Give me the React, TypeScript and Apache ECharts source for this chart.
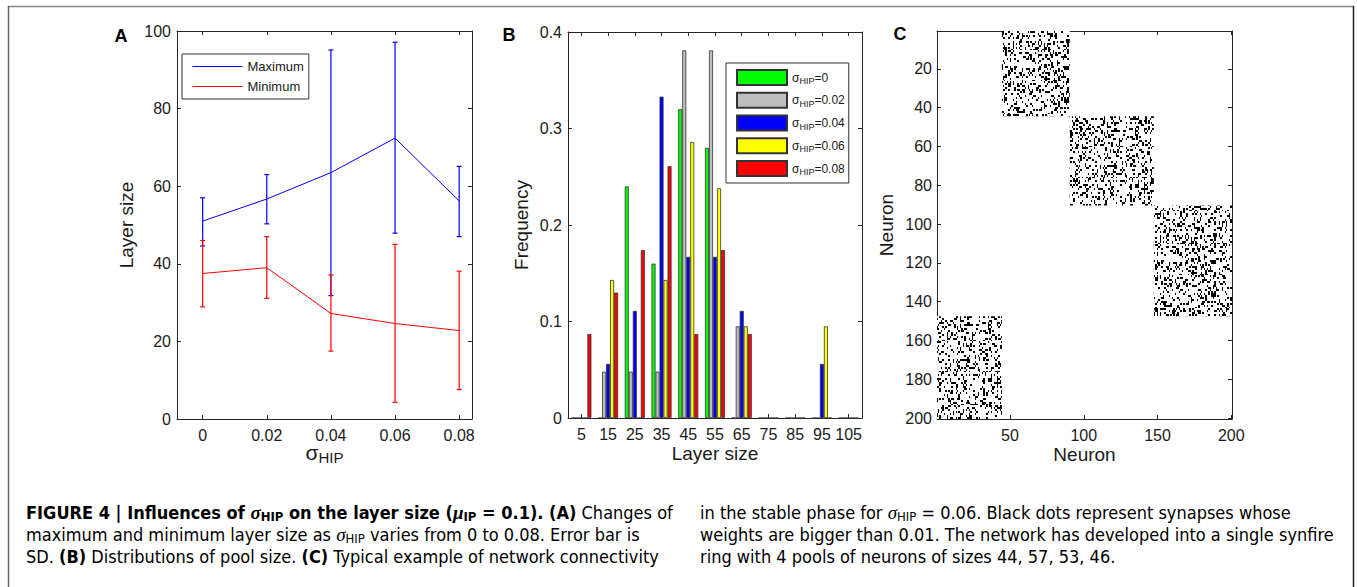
import React, { useEffect, useRef } from 'react';
import * as echarts from 'echarts';

// ---------- Panel A data ----------
const sigmaValues = [0, 0.02, 0.04, 0.06, 0.08];
const maxMean = [51.0, 56.7, 63.5, 72.4, 56.2];
const maxLow = [44.6, 50.3, 31.8, 47.9, 47.0];
const maxHigh = [57.0, 63.0, 95.1, 97.1, 65.1];
const minMean = [37.5, 39.0, 27.2, 24.6, 22.8];
const minLow = [28.9, 31.1, 17.5, 4.3, 7.6];
const minHigh = [46.0, 47.0, 37.1, 45.0, 38.1];

// ---------- Panel B data ----------
const layerSizeBins = ['5', '15', '25', '35', '45', '55', '65', '75', '85', '95', '105'];
const freqSigma0 = [0, 0, 0.24, 0.16, 0.32, 0.28, 0, 0, 0, 0, 0];
const freqSigma002 = [0, 0.048, 0.048, 0.048, 0.381, 0.381, 0.095, 0, 0, 0, 0];
const freqSigma004 = [0, 0.056, 0.111, 0.333, 0.167, 0.167, 0.111, 0, 0, 0.056, 0];
const freqSigma006 = [0, 0.143, 0, 0.143, 0.286, 0.238, 0.095, 0, 0, 0.095, 0];
const freqSigma008 = [0.087, 0.13, 0.174, 0.261, 0.087, 0.174, 0.087, 0, 0, 0, 0];
const barSeriesNames = ['σHIP=0', 'σHIP=0.02', 'σHIP=0.04', 'σHIP=0.06', 'σHIP=0.08'];
const barColors = ['#00ff00', '#bebebe', '#0000ff', '#ffff00', '#ff0000'];

// ---------- Panel C data (pools of the synfire ring) ----------
const poolStart = [1, 45, 91, 148];
const poolEnd = [44, 90, 147, 200];
const poolTarget = [1, 2, 3, 0];
const neuronTicksY = [20, 40, 60, 80, 100, 120, 140, 160, 180, 200];
const neuronTicksX = [50, 100, 150, 200];

const FONT = "'Liberation Sans', Arial, Helvetica, sans-serif";
const CAP_FONT = "'Liberation Sans Narrow', 'DejaVu Sans Condensed', 'Liberation Sans', sans-serif";
const AXIS = '#262626';
const LABEL = '#1a1a1a';

function makeTexture() {
  // speckle texture used to fill the connectivity blocks (style only)
  const cols = 100, rows = 100, cw = 1.47, ch = 1.94;
  const w = Math.round(cols * cw), h = Math.round(rows * ch);
  const cv = document.createElement('canvas');
  cv.width = w; cv.height = h;
  const ctx = cv.getContext('2d')!;
  ctx.fillStyle = '#ffffff';
  ctx.fillRect(0, 0, w, h);
  ctx.fillStyle = '#000000';
  let s = 987654321;
  for (let r = 0; r < rows; r++) {
    for (let c = 0; c < cols; c++) {
      s = (Math.imul(s, 1103515245) + 12345) >>> 0;
      if (((s >>> 10) % 1000) < 255) {
        const x0 = Math.round(c * cw), x1 = Math.round((c + 1) * cw);
        const y0 = Math.round(r * ch), y1 = Math.round((r + 1) * ch);
        ctx.fillRect(x0, y0, Math.max(1, x1 - x0), Math.max(1, y1 - y0));
      }
    }
  }
  return { canvas: cv, w, h };
}

function axisBase(extra: any) {
  return {
    axisLine: { show: true, onZero: false, lineStyle: { color: AXIS, width: 1 } },
    axisTick: { show: true, inside: true, length: 4, lineStyle: { color: AXIS, width: 1 } },
    axisLabel: { color: LABEL, fontSize: 16, fontFamily: FONT },
    splitLine: { show: false },
    nameMoveOverlap: false,
    nameTextStyle: { color: LABEL, fontSize: 19, fontFamily: FONT, lineHeight: 20 },
    ...extra,
  };
}

function errorBarRender(color: string) {
  return (params: any, api: any) => {
    const x = api.value(0);
    const lo = api.coord([x, api.value(1)]);
    const hi = api.coord([x, api.value(2)]);
    const cap = 2.5;
    const st = { stroke: color, lineWidth: 1.2 };
    return {
      type: 'group',
      children: [
        { type: 'line', shape: { x1: lo[0], y1: lo[1], x2: hi[0], y2: hi[1] }, style: st },
        { type: 'line', shape: { x1: lo[0] - cap, y1: lo[1], x2: lo[0] + cap, y2: lo[1] }, style: st },
        { type: 'line', shape: { x1: hi[0] - cap, y1: hi[1], x2: hi[0] + cap, y2: hi[1] }, style: st },
      ],
    };
  };
}

export default function App() {
  const ref = useRef<HTMLDivElement>(null);

  useEffect(() => {
    const chart = echarts.init(ref.current!, null, { renderer: 'svg' });
    const tex = makeTexture();
    const pattern: any = { image: tex.canvas, repeat: 'repeat', imageWidth: tex.w, imageHeight: tex.h };

    const blocks = poolStart.map((rs, i) => {
      const t = poolTarget[i];
      return [poolStart[t], poolEnd[t], rs, poolEnd[i]];
    });

    const capFs = 18;
    const capRich: any = {
      b: { fontFamily: CAP_FONT, fontWeight: 'bold', fontSize: capFs, color: '#111', lineHeight: 22 },
      bi: { fontFamily: "'Liberation Serif', serif", fontStyle: 'italic', fontWeight: 'bold', fontSize: capFs + 1, color: '#111', lineHeight: 22 },
      bsub: { fontFamily: CAP_FONT, fontWeight: 'bold', fontSize: 13, color: '#111', lineHeight: 16, verticalAlign: 'bottom' },
      r: { fontFamily: CAP_FONT, fontSize: capFs, color: '#333', lineHeight: 22 },
      ri: { fontFamily: "'Liberation Serif', serif", fontStyle: 'italic', fontSize: capFs + 1, color: '#333', lineHeight: 22 },
      rsub: { fontFamily: CAP_FONT, fontSize: 13, color: '#333', lineHeight: 16, verticalAlign: 'bottom' },
    };
    const col1 = 26, col2 = 700;
    const capLines = [
      { x: col1, y: 512, t: '{b|FIGURE 4 | Influences of }{bi|σ}{bsub|HIP}{b| on the layer size (}{bi|μ}{bsub|IP}{b| = 0.1). (A)}{r| Changes of}' },
      { x: col1, y: 534, t: '{r|maximum and minimum layer size as }{ri|σ}{rsub|HIP}{r| varies from 0 to 0.08. Error bar is}' },
      { x: col1, y: 556, t: '{r|SD. }{b|(B)}{r| Distributions of pool size. }{b|(C)}{r| Typical example of network connectivity}' },
      { x: col2, y: 512, t: '{r|in the stable phase for }{ri|σ}{rsub|HIP}{r| = 0.06. Black dots represent synapses whose}' },
      { x: col2, y: 534, t: '{r|weights are bigger than 0.01. The network has developed into a single synfire}' },
      { x: col2, y: 556, t: '{r|ring with 4 pools of neurons of sizes 44, 57, 53, 46.}' },
    ];

    const option: any = {
      animation: false,
      backgroundColor: '#ffffff',
      grid: [
        { left: 177, top: 31, width: 295, height: 388, containLabel: false, outerBoundsMode: 'none' },
        { left: 568, top: 32, width: 294, height: 386, containLabel: false, outerBoundsMode: 'none' },
        { left: 937, top: 31, width: 295, height: 388, containLabel: false, outerBoundsMode: 'none' },
      ],
      legend: [
        {
          data: ['Maximum', 'Minimum'],
          orient: 'vertical', left: 182, top: 54,
          padding: [6, 5, 6, 10], itemGap: 7, itemWidth: 50, itemHeight: 14,
          backgroundColor: '#fff', borderColor: '#333', borderWidth: 1,
          itemStyle: { opacity: 0, color: 'rgba(0,0,0,0)', borderWidth: 0 },
          lineStyle: { width: 1 },
          textStyle: { fontSize: 13, fontFamily: FONT, color: LABEL },
          selectedMode: false,
        },
        {
          data: barSeriesNames,
          orient: 'vertical', left: 726, top: 63,
          padding: [6, 4, 6, 10], itemGap: 5.75, itemWidth: 50, itemHeight: 15,
          icon: 'rect',
          backgroundColor: '#fff', borderColor: '#333', borderWidth: 1,
          selectedMode: false,
          formatter: (name: string) => `{s|σ}{sub|HIP}{s|=${name.split('=')[1]}}`,
          textStyle: {
            color: LABEL,
            rich: {
              s: { fontSize: 12, fontFamily: FONT, color: LABEL, lineHeight: 16 },
              sub: { fontSize: 9, fontFamily: FONT, color: LABEL, lineHeight: 9, verticalAlign: 'bottom' },
            },
          },
        },
      ],
      xAxis: [
        axisBase({
          type: 'value', gridIndex: 0, min: -0.008, max: 0.084, position: 'bottom',
          axisLabel: { color: LABEL, fontSize: 16, fontFamily: FONT, margin: 8, customValues: sigmaValues, formatter: (v: number) => String(+v.toFixed(2)) },
          axisTick: { show: true, inside: true, length: 4, lineStyle: { color: AXIS }, customValues: sigmaValues },
          name: '{s|σ}{sub|HIP}', nameLocation: 'middle', nameGap: 20,
          nameTextStyle: {
            rich: {
              s: { fontSize: 21, fontFamily: FONT, color: LABEL, lineHeight: 26 },
              sub: { fontSize: 15, fontFamily: FONT, color: LABEL, lineHeight: 5, verticalAlign: 'bottom' },
            },
          },
        }),
        axisBase({
          type: 'value', gridIndex: 0, min: -0.008, max: 0.084, position: 'top',
          axisLabel: { show: false, customValues: sigmaValues },
          axisTick: { show: true, inside: true, length: 4, lineStyle: { color: AXIS }, customValues: sigmaValues },
        }),
        axisBase({
          type: 'category', gridIndex: 1, data: layerSizeBins, boundaryGap: true, position: 'bottom',
          axisLabel: { color: LABEL, fontSize: 16, fontFamily: FONT, margin: 8, interval: 0 },
          axisTick: { show: true, inside: true, length: 4, alignWithLabel: true, interval: 0, lineStyle: { color: AXIS } },
          name: 'Layer size', nameLocation: 'middle', nameGap: 25,
        }),
        axisBase({
          type: 'category', gridIndex: 1, data: layerSizeBins, boundaryGap: true, position: 'top',
          axisLabel: { show: false },
          axisTick: { show: true, inside: true, length: 4, alignWithLabel: true, interval: 0, lineStyle: { color: AXIS } },
        }),
        axisBase({
          type: 'value', gridIndex: 2, min: 0.5, max: 200.5, position: 'bottom',
          axisLabel: { color: LABEL, fontSize: 16, fontFamily: FONT, margin: 8, customValues: neuronTicksX },
          axisTick: { show: true, inside: true, length: 4, lineStyle: { color: AXIS }, customValues: neuronTicksX },
          name: 'Neuron', nameLocation: 'middle', nameGap: 25,
        }),
        axisBase({
          type: 'value', gridIndex: 2, min: 0.5, max: 200.5, position: 'top',
          axisLabel: { show: false, customValues: neuronTicksX },
          axisTick: { show: true, inside: true, length: 4, lineStyle: { color: AXIS }, customValues: neuronTicksX },
        }),
      ],
      yAxis: [
        axisBase({
          type: 'value', gridIndex: 0, min: 0, max: 100, interval: 20, position: 'left',
          axisLabel: { color: LABEL, fontSize: 16, fontFamily: FONT, margin: 6 },
          name: 'Layer size', nameLocation: 'middle', nameGap: 41, nameRotate: 90,
        }),
        axisBase({
          type: 'value', gridIndex: 0, min: 0, max: 100, interval: 20, position: 'right',
          axisLabel: { show: false },
        }),
        axisBase({
          type: 'value', gridIndex: 1, min: 0, max: 0.4, interval: 0.1, position: 'left',
          axisLabel: { color: LABEL, fontSize: 16, fontFamily: FONT, margin: 6 },
          name: 'Frequency', nameLocation: 'middle', nameGap: 37, nameRotate: 90,
        }),
        axisBase({
          type: 'value', gridIndex: 1, min: 0, max: 0.4, interval: 0.1, position: 'right',
          axisLabel: { show: false },
        }),
        axisBase({
          type: 'value', gridIndex: 2, min: 0.5, max: 200.5, inverse: true, position: 'left',
          axisLabel: { color: LABEL, fontSize: 16, fontFamily: FONT, margin: 5, customValues: neuronTicksY },
          axisTick: { show: true, inside: true, length: 4, lineStyle: { color: AXIS }, customValues: neuronTicksY },
          name: 'Neuron', nameLocation: 'middle', nameGap: 41, nameRotate: 90,
        }),
        axisBase({
          type: 'value', gridIndex: 2, min: 0.5, max: 200.5, inverse: true, position: 'right',
          axisLabel: { show: false, customValues: neuronTicksY },
          axisTick: { show: true, inside: true, length: 4, lineStyle: { color: AXIS }, customValues: neuronTicksY },
        }),
      ],
      series: [
        {
          name: 'Maximum', type: 'line', xAxisIndex: 0, yAxisIndex: 0,
          data: sigmaValues.map((x, i) => [x, maxMean[i]]),
          symbol: 'none', lineStyle: { color: '#0000ff', width: 1 }, itemStyle: { color: '#0000ff' },
          z: 3,
        },
        {
          name: 'Minimum', type: 'line', xAxisIndex: 0, yAxisIndex: 0,
          data: sigmaValues.map((x, i) => [x, minMean[i]]),
          symbol: 'none', lineStyle: { color: '#ff0000', width: 1 }, itemStyle: { color: '#ff0000' },
          z: 3,
        },
        {
          name: 'Maximum SD', type: 'custom', xAxisIndex: 0, yAxisIndex: 0,
          data: sigmaValues.map((x, i) => [x, maxLow[i], maxHigh[i]]),
          renderItem: errorBarRender('#0000ff'), encode: { x: 0, y: [1, 2] }, silent: true, z: 3,
        },
        {
          name: 'Minimum SD', type: 'custom', xAxisIndex: 0, yAxisIndex: 0,
          data: sigmaValues.map((x, i) => [x, minLow[i], minHigh[i]]),
          renderItem: errorBarRender('#ff0000'), encode: { x: 0, y: [1, 2] }, silent: true, z: 3,
        },
        ...[freqSigma0, freqSigma002, freqSigma004, freqSigma006, freqSigma008].map((d, i) => ({
          name: barSeriesNames[i], type: 'bar', xAxisIndex: 2, yAxisIndex: 2,
          data: d, barWidth: '15%', barGap: '0%',
          itemStyle: { color: barColors[i], borderColor: '#333', borderWidth: 0.8 },
          silent: true,
        })),
        {
          name: 'Connectivity', type: 'custom', xAxisIndex: 4, yAxisIndex: 4,
          data: blocks,
          encode: { x: [0, 1], y: [2, 3] },
          silent: true,
          renderItem: (params: any, api: any) => {
            const p1 = api.coord([api.value(0) - 0.5, api.value(2) - 0.5]);
            const p2 = api.coord([api.value(1) + 0.5, api.value(3) + 0.5]);
            return {
              type: 'rect',
              shape: {
                x: Math.min(p1[0], p2[0]), y: Math.min(p1[1], p2[1]),
                width: Math.abs(p2[0] - p1[0]), height: Math.abs(p2[1] - p1[1]),
              },
              style: { fill: pattern },
            };
          },
        },
      ],
      graphic: [
        { type: 'line', shape: { x1: 8, y1: 6.5, x2: 1354, y2: 6.5 }, style: { stroke: '#888', lineWidth: 1.5 }, silent: true },
        { type: 'line', shape: { x1: 8.5, y1: 6, x2: 8.5, y2: 587 }, style: { stroke: '#666', lineWidth: 1.5 }, silent: true },
        { type: 'line', shape: { x1: 1353.5, y1: 6, x2: 1353.5, y2: 587 }, style: { stroke: '#222', lineWidth: 1.5 }, silent: true },
        { type: 'text', x: 121, y: 36, style: { text: 'A', font: `bold 18px ${FONT}`, fill: '#000', align: 'center', verticalAlign: 'middle' } },
        { type: 'text', x: 509, y: 35, style: { text: 'B', font: `bold 18px ${FONT}`, fill: '#000', align: 'center', verticalAlign: 'middle' } },
        { type: 'text', x: 900, y: 34, style: { text: 'C', font: `bold 18px ${FONT}`, fill: '#000', align: 'center', verticalAlign: 'middle' } },
        ...capLines.map((l) => ({
          type: 'text', x: l.x, y: l.y,
          style: { text: l.t, rich: capRich, align: 'left', verticalAlign: 'middle' },
        })),
      ],
    };

    chart.setOption(option);
    return () => chart.dispose();
  }, []);

  return (
    <div
      ref={ref}
      style={{ position: 'absolute', left: 0, top: 0, width: 1357, height: 587, background: '#ffffff' }}
    />
  );
}
